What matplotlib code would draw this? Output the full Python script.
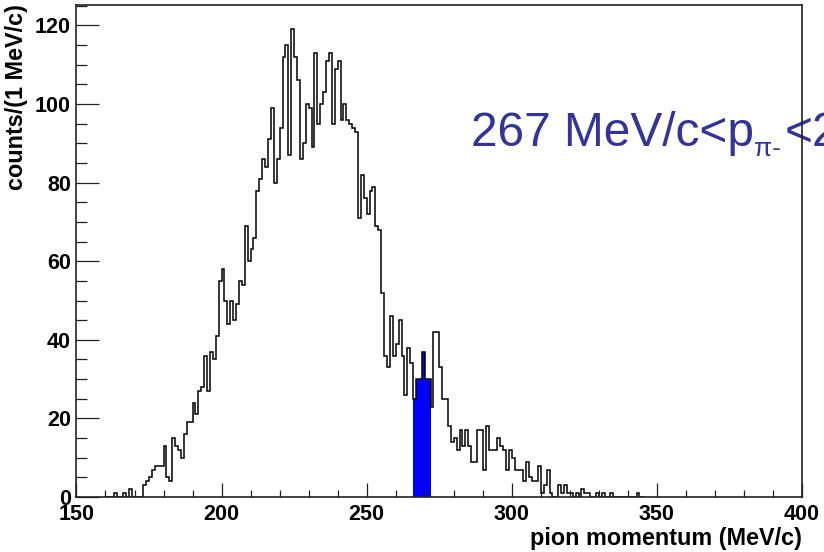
import numpy as np
import matplotlib
matplotlib.use("Agg")
import matplotlib.pyplot as plt
from matplotlib.ticker import MultipleLocator

plt.rcParams['font.family'] = ['Liberation Sans', 'DejaVu Sans']

# pion momentum spectrum, 1 MeV/c bins, first bin starts at p_start
p_start = 160
counts = [
    0, 0, 0, 1, 0, 0, 1, 0, 2, 0,              # 160-169
    0, 0, 0, 3, 4, 5, 7, 8, 8, 8,              # 170-179
    13, 5, 4, 15, 13, 12, 10, 16, 19, 19,      # 180-189
    24, 21, 27, 28, 36, 27, 37, 35, 41, 55,    # 190-199
    58, 50, 44, 50, 45, 49, 55, 54, 69, 60,    # 200-209
    63, 66, 78, 81, 86, 84, 91, 99, 80, 86,    # 210-219
    94, 112, 115, 87, 119, 112, 106, 86, 90, 100,   # 220-229
    99, 89, 113, 95, 100, 103, 111, 113, 95, 109,   # 230-239
    111, 96, 100, 96, 95, 94, 93, 71, 82, 76,  # 240-249
    72, 78, 79, 69, 68, 52, 36, 33, 46, 36,    # 250-259
    39, 45, 36, 26, 38, 34, 25, 30, 30, 37,    # 260-269
    30, 30, 23, 42, 42, 33, 25, 25, 18, 14,    # 270-279
    15, 12, 17, 13, 17, 13, 9, 9, 17, 17,      # 280-289
    7, 18, 12, 12, 12, 15, 13, 12, 7, 12,      # 290-299
    10, 7, 7, 7, 4, 9, 5, 4, 4, 8,             # 300-309
    1, 3, 7, 1, 0, 0, 3, 1, 3, 1,              # 310-319
    1, 0, 1, 0, 2, 1, 1, 0, 0, 1,              # 320-329
    0, 1, 0, 0, 1, 0, 0, 0, 0, 0,              # 330-339
    0, 0, 0, 1, 0, 0,                          # 340-345
]
# selected momentum window (filled)
sel_lo, sel_hi = 266, 272

x_lim = (150, 400)
y_lim = (0, 125.2)
x_major = [150, 200, 250, 300, 350, 400]
y_major = [0, 20, 40, 60, 80, 100, 120]

counts = np.array(counts, dtype=float)
edges = np.arange(p_start, p_start + len(counts) + 1)

fig = plt.figure(figsize=(8.24, 5.52), dpi=100)
ax = fig.add_axes([0.0928, 0.0996, 0.8805, 0.8913])

# filled window first, outline on top
i0 = sel_lo - p_start
i1 = sel_hi - p_start
ax.stairs(counts[i0:i1], edges[i0:i1 + 1], fill=True, color='#0000ff', lw=0)
ax.stairs(counts, edges, color='black', lw=1.1, baseline=0)

ax.set_xlim(*x_lim)
ax.set_ylim(*y_lim)
ax.set_xticks(x_major)
ax.set_yticks(y_major)
ax.xaxis.set_minor_locator(MultipleLocator(10))
ax.yaxis.set_minor_locator(MultipleLocator(5))
ax.tick_params(which='both', direction='in', width=0.9, color='#222222',
               labelsize=15.5, labelcolor='black')
ax.tick_params(axis='x', which='major', length=10, pad=5)
ax.tick_params(axis='x', which='minor', length=5)
ax.tick_params(axis='y', which='major', length=16.5, pad=4)
ax.tick_params(axis='y', which='minor', length=8)
for lab in ax.get_xticklabels() + ax.get_yticklabels():
    lab.set_fontweight('bold')
for sp in ax.spines.values():
    sp.set_linewidth(1.2)
    sp.set_color('#222222')

fig.text(802 / 824, 1 - 538 / 552, 'pion momentum (MeV/c)', fontsize=16.8,
         fontweight='bold', ha='right', va='center')
fig.text(17 / 824, 1 - 4 / 552, 'counts/(1 MeV/c)', fontsize=16.8,
         fontweight='bold', rotation=90, ha='center', va='top')

# window label, pieced together so the subscript sits low
txt_col = '#333399'
fig.canvas.draw()
rend = fig.canvas.get_renderer()
t1 = ax.text(471 / 824, 1 - 146 / 552, '267 MeV/c<p', fontsize=34.5,
             color=txt_col, va='baseline', transform=fig.transFigure, zorder=1)
bb = t1.get_window_extent(rend)
t2 = ax.text(bb.x1 / fig.bbox.width, 1 - 156 / 552, 'π-', fontsize=19,
             color=txt_col, va='baseline', transform=fig.transFigure, zorder=1)
bb = t2.get_window_extent(rend)
ax.text(bb.x1 / fig.bbox.width + 0.004, 1 - 146 / 552, '<2', fontsize=34.5,
        color=txt_col, va='baseline', transform=fig.transFigure, zorder=1)

fig.savefig('out.png', dpi=100)
